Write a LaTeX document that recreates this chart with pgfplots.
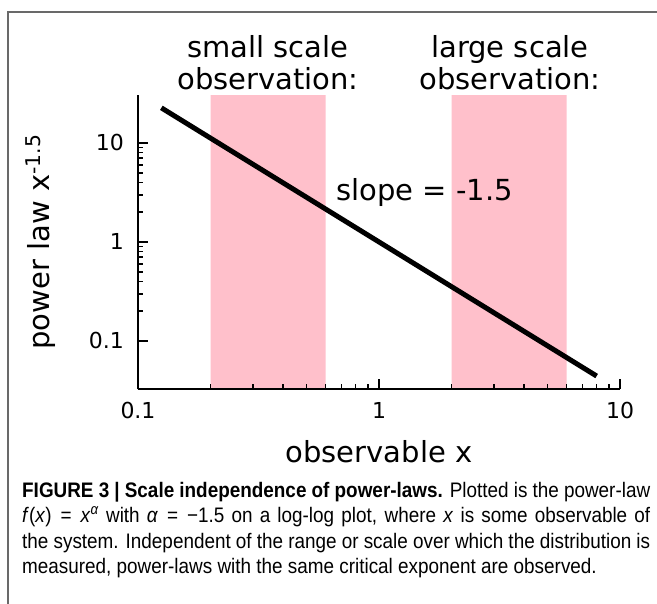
\documentclass[border=0pt]{standalone}
\usepackage{fontspec}
\usepackage{graphicx}
\usepackage{pgfplots}
\pgfplotsset{compat=1.18}
\setmainfont{DejaVu Sans}
\newfontfamily\capfont{Liberation Sans}
\definecolor{pinkc}{RGB}{255,192,203}
\definecolor{bordergray}{RGB}{105,105,105}
\newcommand\bigf{\fontsize{29bp}{35bp}\selectfont}
\newcommand\tickf{\fontsize{22bp}{26bp}\selectfont}
\newcommand\capf{\capfont\fontsize{21bp}{25bp}\selectfont}
\newcommand\capjust[1]{\scalebox{0.9}[1]{\makebox[697.8bp][s]{#1}}}
\newcommand\capline[1]{\scalebox{0.9}[1]{#1}}
\newcommand\eqs{\hspace{2bp}}
\begin{document}
\begin{tikzpicture}
\path[use as bounding box] (0,0) rectangle (657bp,-604bp);
\fill[white] (0,0) rectangle (657bp,-604bp);
\draw[line width=2bp, bordergray] (8bp,-610bp) -- (8bp,-12bp) -- (660bp,-12bp);
\begin{axis}[
  at={(138bp,-389bp)}, anchor=south west,
  scale only axis, width=482bp, height=294bp,
  xmode=log, ymode=log,
  xmin=0.1, xmax=10, ymin=0.0327, ymax=30.5,
  axis lines*=left,
  axis line style={line width=2bp, black},
  tick align=inside,
  major tick length=10bp, minor tick length=5bp,
  every tick/.style={line width=1.6bp, black},
  xtick={0.1,1,10}, xticklabels={0.1,1,10},
  ytick={0.1,1,10}, yticklabels={0.1,1,10},
  /pgf/number format/assume math mode=true,
  xticklabel style={font=\tickf, inner sep=0pt, anchor=north, yshift=-13bp},
  yticklabel style={font=\tickf, inner sep=0pt, anchor=east, xshift=-14bp},
  axis on top,
  clip=false,
]
\addplot[fill=pinkc, draw=none] coordinates {(0.2,0.0327) (0.6,0.0327) (0.6,30.5) (0.2,30.5) (0.2,0.0327)};
\addplot[fill=pinkc, draw=none] coordinates {(2,0.0327) (6,0.0327) (6,30.5) (2,30.5) (2,0.0327)};
\addplot[black, line width=5bp] coordinates {(0.125,22.63) (8,0.0442)};
\end{axis}
\node[font=\bigf, anchor=base] at (268bp,-57bp) {small scale};
\node[font=\bigf, anchor=base] at (268bp,-89bp) {observation:};
\node[font=\bigf, anchor=base] at (510bp,-57bp) {large scale};
\node[font=\bigf, anchor=base] at (510bp,-89bp) {observation:};
\node[font=\bigf, anchor=base west, inner sep=0pt] at (336bp,-200bp) {slope = -1.5};
\node[font=\bigf, anchor=base] at (379bp,-462bp) {observable x};
\node[font=\bigf, anchor=base, rotate=90] at (49bp,-242bp) {power law x\textsuperscript{-1.5}};
\node[anchor=base west, inner sep=0pt] at (22bp,-497bp) {\capf\capjust{{\bfseries FIGURE 3 | Scale independence of power-laws.} Plotted is the power-law}};
\node[anchor=base west, inner sep=0pt] at (22bp,-522bp) {\capf\capjust{\textit{f}(\textit{x})\eqs{} = \eqs\textit{x}\textsuperscript{\textit{α}} with \textit{α}\eqs{} = \eqs−1.5 on a log-log plot, where \textit{x} is some observable of}};
\node[anchor=base west, inner sep=0pt] at (22bp,-548bp) {\capf\capjust{the system. Independent of the range or scale over which the distribution is}};
\node[anchor=base west, inner sep=0pt] at (22bp,-573bp) {\capf\capline{measured, power-laws with the same critical exponent are observed.}};
\end{tikzpicture}
\end{document}
